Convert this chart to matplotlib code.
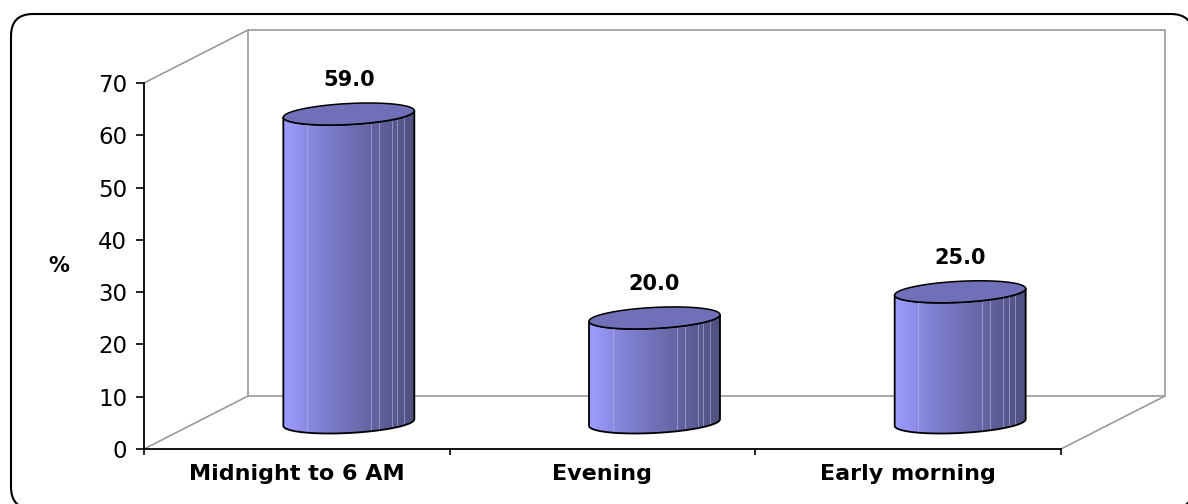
#!/usr/bin/env python3
"""Fake-3D cylinder bar chart, drawn on a plain front-plane axes."""

import numpy as np
import matplotlib
matplotlib.use("Agg")
import matplotlib.pyplot as plt
from matplotlib.colors import LinearSegmentedColormap
from matplotlib.patches import FancyBboxPatch, PathPatch
from matplotlib.path import Path

W, H = 1188, 504

categories = ["Midnight to 6 AM", "Evening", "Early morning"]
values = [59.0, 20.0, 25.0]
y_ticks = [0, 10, 20, 30, 40, 50, 60, 70]

# front plane of the chart box in pixels
LEFT, RIGHT, BOTTOM, TOP = 144, 1061, 449, 83
DEPTH_X, DEPTH_Y = 104, 53
BAR_HALF = 65.5
ELL_B, ELL_TILT = 10.5, 3.3

INK = "#000000"
WALL = "#9a9a9a"
SHADE = LinearSegmentedColormap.from_list(
    "shade", ["#9c9cff", "#8888e0", "#7878c6", "#6a6aac", "#5c5c96", "#505080"]
)
# lighter streaks on the cylinder side, as fractions of its width
STREAKS = [0.18, 0.67, 0.73, 0.83, 0.87, 0.92]

plt.rcParams["font.family"] = ["DejaVu Sans"]

fig = plt.figure(figsize=(W / 100, H / 100), dpi=100, facecolor="white")

# page layer, for the rounded frame (runs off the right and bottom edges)
bg = fig.add_axes([0, 0, 1, 1])
bg.set_xlim(0, W)
bg.set_ylim(H, 0)
bg.axis("off")
bg.add_patch(
    FancyBboxPatch(
        (11, 14), 1182, 495,
        boxstyle="round,pad=0,rounding_size=22",
        fc="white", ec=INK, lw=1.5,
    )
)

ax = fig.add_axes([LEFT / W, 1 - BOTTOM / H, (RIGHT - LEFT) / W, (BOTTOM - TOP) / H])
ax.set_xlim(0, len(categories))
ax.set_ylim(0, y_ticks[-1])
ax.patch.set_alpha(0)
for side in ("top", "right"):
    ax.spines[side].set_visible(False)
for side in ("left", "bottom"):
    ax.spines[side].set_linewidth(1.3)

ux = (RIGHT - LEFT) / len(categories)  # pixels per category
uy = (BOTTOM - TOP) / y_ticks[-1]  # pixels per percent
dx, dy = DEPTH_X / ux, DEPTH_Y / uy

# walls
wall_kw = dict(color=WALL, lw=1.2, clip_on=False, zorder=1)
ymax = y_ticks[-1]
xmax = len(categories)
ax.plot([dx, dx, xmax + dx, xmax + dx, dx], [dy, ymax + dy, ymax + dy, dy, dy], **wall_kw)
ax.plot([0, dx], [ymax, ymax + dy], **wall_kw)
ax.plot([0, dx], [0, dy], **wall_kw)
ax.plot([xmax, xmax + dx], [0, dy], **wall_kw)

a = BAR_HALF / ux
b = ELL_B / uy
tilt = ELL_TILT / uy


def ellipse(cx, cy, t):
    return cx + a * np.cos(t), cy + b * np.sin(t) + tilt * np.cos(t)


for i, val in enumerate(values):
    cx = i + 0.5 + dx / 2
    base = dy / 2
    top = val + dy / 2

    t_low = np.linspace(0, -np.pi, 60)
    xb, yb = ellipse(cx, base, t_low)
    xt, yt = ellipse(cx, top, t_low[::-1])
    side = np.column_stack([np.r_[xb, xt], np.r_[yb, yt]])
    path = Path(np.vstack([side, side[:1]]), closed=True)

    patch = PathPatch(path, fc="none", ec=INK, lw=1.3, zorder=4, clip_on=False)
    ax.add_patch(patch)

    grad = np.linspace(0, 1, 64)[None, :]
    low, high = base - b - tilt, top + b + tilt
    img = ax.imshow(
        grad, cmap=SHADE, extent=[cx - a, cx + a, low, high],
        aspect="auto", zorder=3, clip_on=True, interpolation="bilinear",
    )
    img.set_clip_path(PathPatch(path, transform=ax.transData))

    for s in STREAKS:
        sx = cx - a + 2 * a * s
        line = ax.plot([sx, sx], [low, high], color="#b4b4e6", lw=0.6, alpha=0.7, zorder=3.5)[0]
        line.set_clip_path(PathPatch(path, transform=ax.transData))

    xe, ye = ellipse(cx, top, np.linspace(0, 2 * np.pi, 120))
    ax.fill(xe, ye, fc="#7070b8", ec=INK, lw=1.1, zorder=5, clip_on=False)

    ax.text(cx, top + 34 / uy, f"{val:.1f}", ha="center", va="center",
            fontsize=15, fontweight="bold", color=INK, zorder=6)

# imshow resets the limits
ax.set_xlim(0, xmax)
ax.set_ylim(0, ymax)

ax.set_yticks(y_ticks)
ax.set_xticks(range(xmax + 1))
ax.set_xticklabels([])
ax.tick_params(axis="y", length=6, width=1.2, labelsize=16.5, pad=6)
ax.tick_params(axis="x", length=4.5, width=1.2)

for i, name in enumerate(categories):
    ax.annotate(name, (i + 0.5, 0), xytext=(0, -18), textcoords="offset points",
                ha="center", va="center", fontsize=16, fontweight="bold",
                annotation_clip=False)

fig.text(59 / W, 1 - 266 / H, "%", ha="center", va="center", fontsize=15, fontweight="bold")

fig.savefig("out.png", dpi=100)
